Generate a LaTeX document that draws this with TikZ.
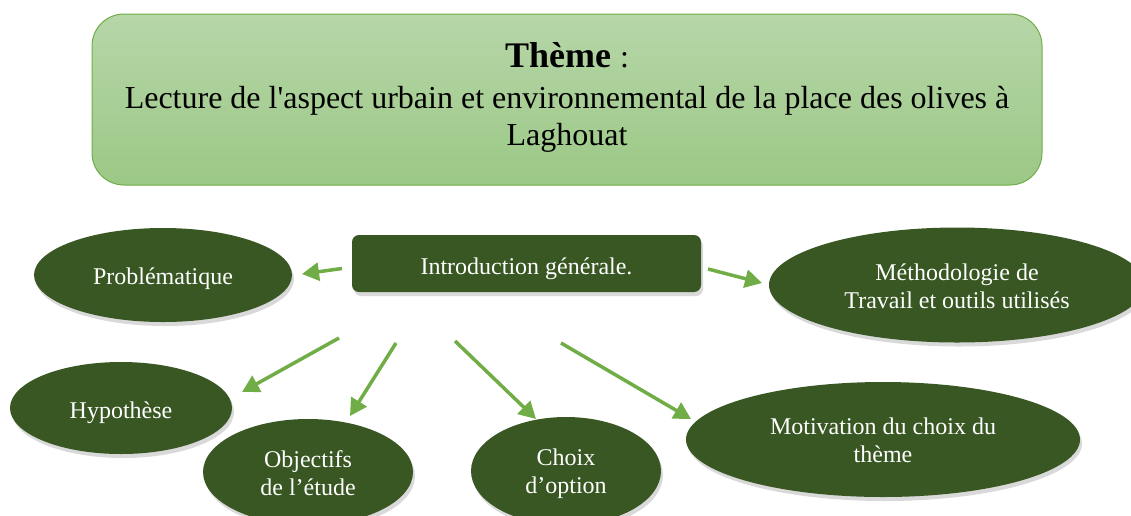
\documentclass[tikz,border=0pt]{standalone}
\usepackage{fontspec}
\setmainfont{Liberation Serif}[Ligatures=TeXOff]
\usetikzlibrary{shapes.geometric,arrows.meta,shadows}
\definecolor{darkgr}{HTML}{385723}
\definecolor{arrowgr}{HTML}{70AD47}
\definecolor{topgr}{HTML}{B6D6A8}
\definecolor{botgr}{HTML}{9CC886}
\tikzset{
  bubble/.style={ellipse, fill=darkgr, inner sep=0pt,
    drop shadow={opacity=0.3, shadow xshift=2pt, shadow yshift=-4pt}},
  bubtext/.style={text=white, inner sep=0pt, align=center,
    font=\fontsize{24}{27.6}\selectfont},
  introbox/.style={rectangle, rounded corners=7pt, fill=darkgr, inner sep=0pt,
    drop shadow={opacity=0.3, shadow xshift=2pt, shadow yshift=-4pt}},
  themebox/.style={rectangle, rounded corners=32pt, draw=arrowgr, line width=1pt,
    top color=topgr, bottom color=botgr, inner sep=0pt},
  link/.style={draw=arrowgr, line width=3.5pt, -{Triangle[length=17pt,width=18pt]}}
}
\begin{document}
\begin{tikzpicture}[x=1pt,y=-1pt]
\useasboundingbox (0,0) rectangle (1131,515);
\clip (0,0) rectangle (1131,515);
% theme box
\node[themebox, minimum width=950pt, minimum height=171pt] (theme) at (567,99.5) {};
\node[font=\fontsize{32}{36.8}\selectfont] (themetitle) at (567,55) {\fontsize{36}{40}\selectfont\textbf{Thème} \fontsize{32}{36.8}\selectfont:};
\node[font=\fontsize{32}{36.8}\selectfont, align=center, anchor=north] (themetext) at (567,83)
  {Lecture de l'aspect urbain et environnemental de la place des olives à\\Laghouat};
% intro
\node[introbox, minimum width=349pt, minimum height=57pt] (intro) at (526.5,263.5) {};
\node[bubtext] (introt) at ([yshift=-5pt]intro.center) {Introduction générale.};
% ellipses
\node[bubble, minimum width=258pt, minimum height=94pt] (prob) at (163,275) {};
\node[bubtext] (probt) at ([yshift=-4pt]prob.center) {Problématique};
\node[bubble, minimum width=376pt, minimum height=115pt] (meth) at (957,285) {};
\node[bubtext] (metht) at ([yshift=-1pt]meth.center) {Méthodologie de\\Travail et outils utilisés};
\node[bubble, minimum width=222pt, minimum height=92pt] (hyp) at (121,408) {};
\node[bubtext] (hypt) at ([yshift=-5pt]hyp.center) {Hypothèse};
\node[bubble, minimum width=210pt, minimum height=106pt] (obj) at (308,472) {};
\node[bubtext] (objt) at ([yshift=-1pt]obj.center) {Objectifs\\de l’étude};
\node[bubble, minimum width=190pt, minimum height=108pt] (choix) at (566,471) {};
\node[bubtext] (choixt) at ([yshift=-3pt]choix.center) {Choix\\d’option};
\node[bubble, minimum width=394pt, minimum height=115pt] (motiv) at (883,439.5) {};
\node[bubtext] (motivt) at ([yshift=-0.5pt]motiv.center) {Motivation du choix du\\thème};
% arrow end points
\coordinate (a1s) at (342,268.5);
\coordinate (a1e) at (302,274);
\coordinate (a2s) at (708,269);
\coordinate (a2e) at (762,283);
\coordinate (a3s) at (339,338);
\coordinate (a3e) at (242,392);
\coordinate (a4s) at (396,343);
\coordinate (a4e) at (350,416);
\coordinate (a5s) at (455,341);
\coordinate (a5e) at (536,419);
\coordinate (a6s) at (561,343);
\coordinate (a6e) at (691,419);
\draw[link] (a1s) -- (a1e);
\draw[link] (a2s) -- (a2e);
\draw[link] (a3s) -- (a3e);
\draw[link] (a4s) -- (a4e);
\draw[link] (a5s) -- (a5e);
\draw[link] (a6s) -- (a6e);
\end{tikzpicture}
\end{document}
